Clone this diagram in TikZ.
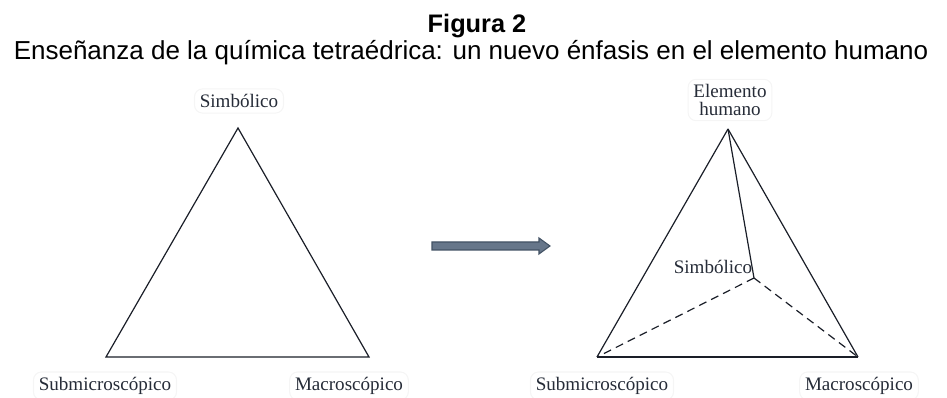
\documentclass[tikz,border=0pt]{standalone}
\usepackage{fontspec}
\setmainfont{Liberation Serif}
\newfontfamily\arialfont{Liberation Sans}
\usetikzlibrary{calc}
\definecolor{arrowfill}{HTML}{66768A}
\definecolor{arrowline}{HTML}{425264}
\definecolor{inkline}{HTML}{1A1E28}
\definecolor{labelink}{HTML}{262C38}
\begin{document}
\begin{tikzpicture}[x=0.75pt,y=-0.75pt,thick,
  corner label/.style={font=\fontsize{14.3}{15}\selectfont,text=labelink,draw=black!4,rounded corners=6pt,inner sep=4pt,align=center},
  side/.style={draw=inkline,line width=0.9pt},
  hidden side/.style={side,dashed,dash pattern=on 6pt off 4pt}]
  \useasboundingbox (0,0) rectangle (947,398);

  % title
  \node[font=\arialfont\bfseries\fontsize{19}{21}\selectfont,anchor=base] at (477,33) (title) {Figura 2};
  \node[font=\arialfont\fontsize{19.5}{21}\selectfont,anchor=base] at (471,60) (subtitle) {Enseñanza de la química tetraédrica: un nuevo énfasis en el elemento humano};

  % triangle
  \coordinate (t1) at (238,128);
  \coordinate (t2) at (106,357);
  \coordinate (t3) at (369,357);
  \node[corner label] at (239,101) (simb1) {Simbólico};
  \node[corner label] at (105,386) (sub1) {Submicroscópico};
  \node[corner label] at (349,386) (mac1) {Macroscópico};
  \draw[side] (t1) -- (t2) -- (t3) -- cycle;

  % arrow
  \coordinate (a1) at (432,246);
  \coordinate (a2) at (550,246);
  \draw[arrowline,fill=arrowfill,line width=0.8pt]
    ($(a1)+(0,-4)$) -- ($(a2)+(-11,-4)$) -- ($(a2)+(-11,-8)$) -- (a2)
    -- ($(a2)+(-11,8)$) -- ($(a2)+(-11,4)$) -- ($(a1)+(0,4)$) -- cycle;

  % tetrahedron
  \coordinate (h) at (728,129);
  \coordinate (s) at (754,278);
  \coordinate (b1) at (597,357);
  \coordinate (b2) at (858,357);
  \node[corner label] at (730,100) (hum) {Elemento\\[-2pt]humano};
  \node[corner label,draw=none,fill=none] at (713,267) (simb2) {Simbólico};
  \node[corner label] at (602,386) (sub2) {Submicroscópico};
  \node[corner label] at (859,386) (mac2) {Macroscópico};
  \path (h) edge[side] (b1)
        (h) edge[side] (b2)
        (b1) edge[side] (b2)
        (h) edge[side] (s)
        (s) edge[hidden side] (b1)
        (s) edge[hidden side] (b2);
\end{tikzpicture}
\end{document}
